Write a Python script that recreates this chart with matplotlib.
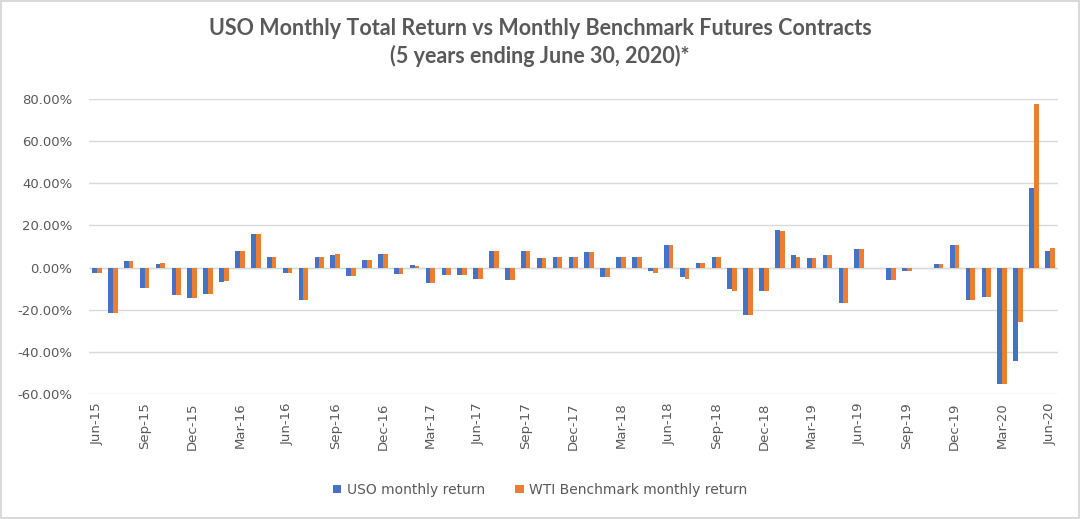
import matplotlib
matplotlib.use("Agg")
import matplotlib.pyplot as plt
import numpy as np
from matplotlib.ticker import PercentFormatter
from matplotlib.patches import Rectangle

months = ["Jun-15", "Jul-15", "Aug-15", "Sep-15", "Oct-15", "Nov-15", "Dec-15",
          "Jan-16", "Feb-16", "Mar-16", "Apr-16", "May-16", "Jun-16", "Jul-16",
          "Aug-16", "Sep-16", "Oct-16", "Nov-16", "Dec-16", "Jan-17", "Feb-17",
          "Mar-17", "Apr-17", "May-17", "Jun-17", "Jul-17", "Aug-17", "Sep-17",
          "Oct-17", "Nov-17", "Dec-17", "Jan-18", "Feb-18", "Mar-18", "Apr-18",
          "May-18", "Jun-18", "Jul-18", "Aug-18", "Sep-18", "Oct-18", "Nov-18",
          "Dec-18", "Jan-19", "Feb-19", "Mar-19", "Apr-19", "May-19", "Jun-19",
          "Jul-19", "Aug-19", "Sep-19", "Oct-19", "Nov-19", "Dec-19", "Jan-20",
          "Feb-20", "Mar-20", "Apr-20", "May-20", "Jun-20"]

uso = [-2.5, -21.4, 3.0, -9.6, 1.6, -13.2, -14.5, -12.4, -6.8, 8.0,
       15.9, 5.2, -2.4, -15.4, 5.2, 6.0, -3.8, 3.8, 6.6, -3.1,
       1.0, -7.4, -3.3, -3.3, -5.4, 7.9, -6.1, 7.9, 4.4, 5.2,
       5.2, 7.2, -4.6, 5.2, 5.2, -1.6, 10.9, -4.7, 2.2, 5.2,
       -10.4, -22.5, -11.2, 18.0, 6.0, 4.4, 5.8, -16.7, 8.7, 0.0,
       -6.1, -1.5, 0.0, 1.6, 10.9, -15.3, -14.0, -55.1, -44.4, 37.8,
       7.9]

wti = [-2.6, -21.4, 3.0, -9.6, 2.4, -13.2, -14.5, -12.4, -6.5, 8.0,
       15.9, 5.2, -2.6, -15.4, 5.2, 6.6, -4.0, 3.8, 6.6, -3.1,
       0.8, -7.4, -3.3, -3.3, -5.4, 7.9, -6.1, 7.9, 4.4, 5.2,
       5.2, 7.2, -4.6, 5.2, 5.2, -2.5, 10.9, -5.5, 2.2, 5.2,
       -11.2, -22.5, -11.2, 17.2, 5.2, 4.4, 5.8, -16.7, 8.7, 0.0,
       -6.1, -1.8, 0.0, 1.6, 10.9, -15.3, -14.0, -55.1, -25.7, 77.5,
       9.4]

blue = "#4472C4"
orange = "#ED7D31"
grey = "#595959"

plt.rcParams['font.family'] = ['DejaVu Sans']
plt.rcParams['axes.unicode_minus'] = False

fig = plt.figure(figsize=(10.8, 5.19), dpi=100)
ax = fig.add_axes([0.0824, 0.241, 0.897, 0.568])

x = np.arange(len(months))
w = 0.3
ax.bar(x - w / 2, uso, width=w, color=blue, label="USO monthly return", zorder=3)
ax.bar(x + w / 2, wti, width=w, color=orange, label="WTI Benchmark monthly return", zorder=3)

ax.set_xlim(-0.5, len(months) - 0.5)
ax.set_ylim(-60, 80)
ax.set_yticks(np.arange(-60, 81, 20))
ax.yaxis.set_major_formatter(PercentFormatter(decimals=2))
ax.grid(axis="y", color="#D9D9D9", linewidth=1, zorder=0)
ax.axhline(0, color="#D9D9D9", linewidth=1, zorder=2)

ax.set_xticks(x[::3])
ax.set_xticklabels(months[::3], rotation=90)
ax.tick_params(axis="both", length=0, labelsize=9.5, colors=grey)
ax.tick_params(axis="y", pad=12)
ax.tick_params(axis="x", pad=6)
for s in ax.spines.values():
    s.set_visible(False)

fig.text(0.5, 0.945, "USO Monthly Total Return vs Monthly Benchmark Futures Contracts",
         ha="center", va="center", fontsize=15.5, fontweight="bold", color=grey,
         family="Lato")
fig.text(0.5, 0.893, "(5 years ending June 30, 2020)*",
         ha="center", va="center", fontsize=15.5, fontweight="bold", color=grey,
         family="Lato")

leg = fig.legend(loc="center", bbox_to_anchor=(0.5, 0.056), ncol=2, frameon=False,
                 fontsize=10, handlelength=0.6, handleheight=0.6, columnspacing=2.2,
                 handletextpad=0.4)
for t in leg.get_texts():
    t.set_color(grey)

fig.patches.append(Rectangle((0.001, 0.001), 0.998, 0.997, transform=fig.transFigure,
                             fill=False, edgecolor="#D9D9D9", linewidth=1.5))

fig.savefig("out.png", dpi=100)
